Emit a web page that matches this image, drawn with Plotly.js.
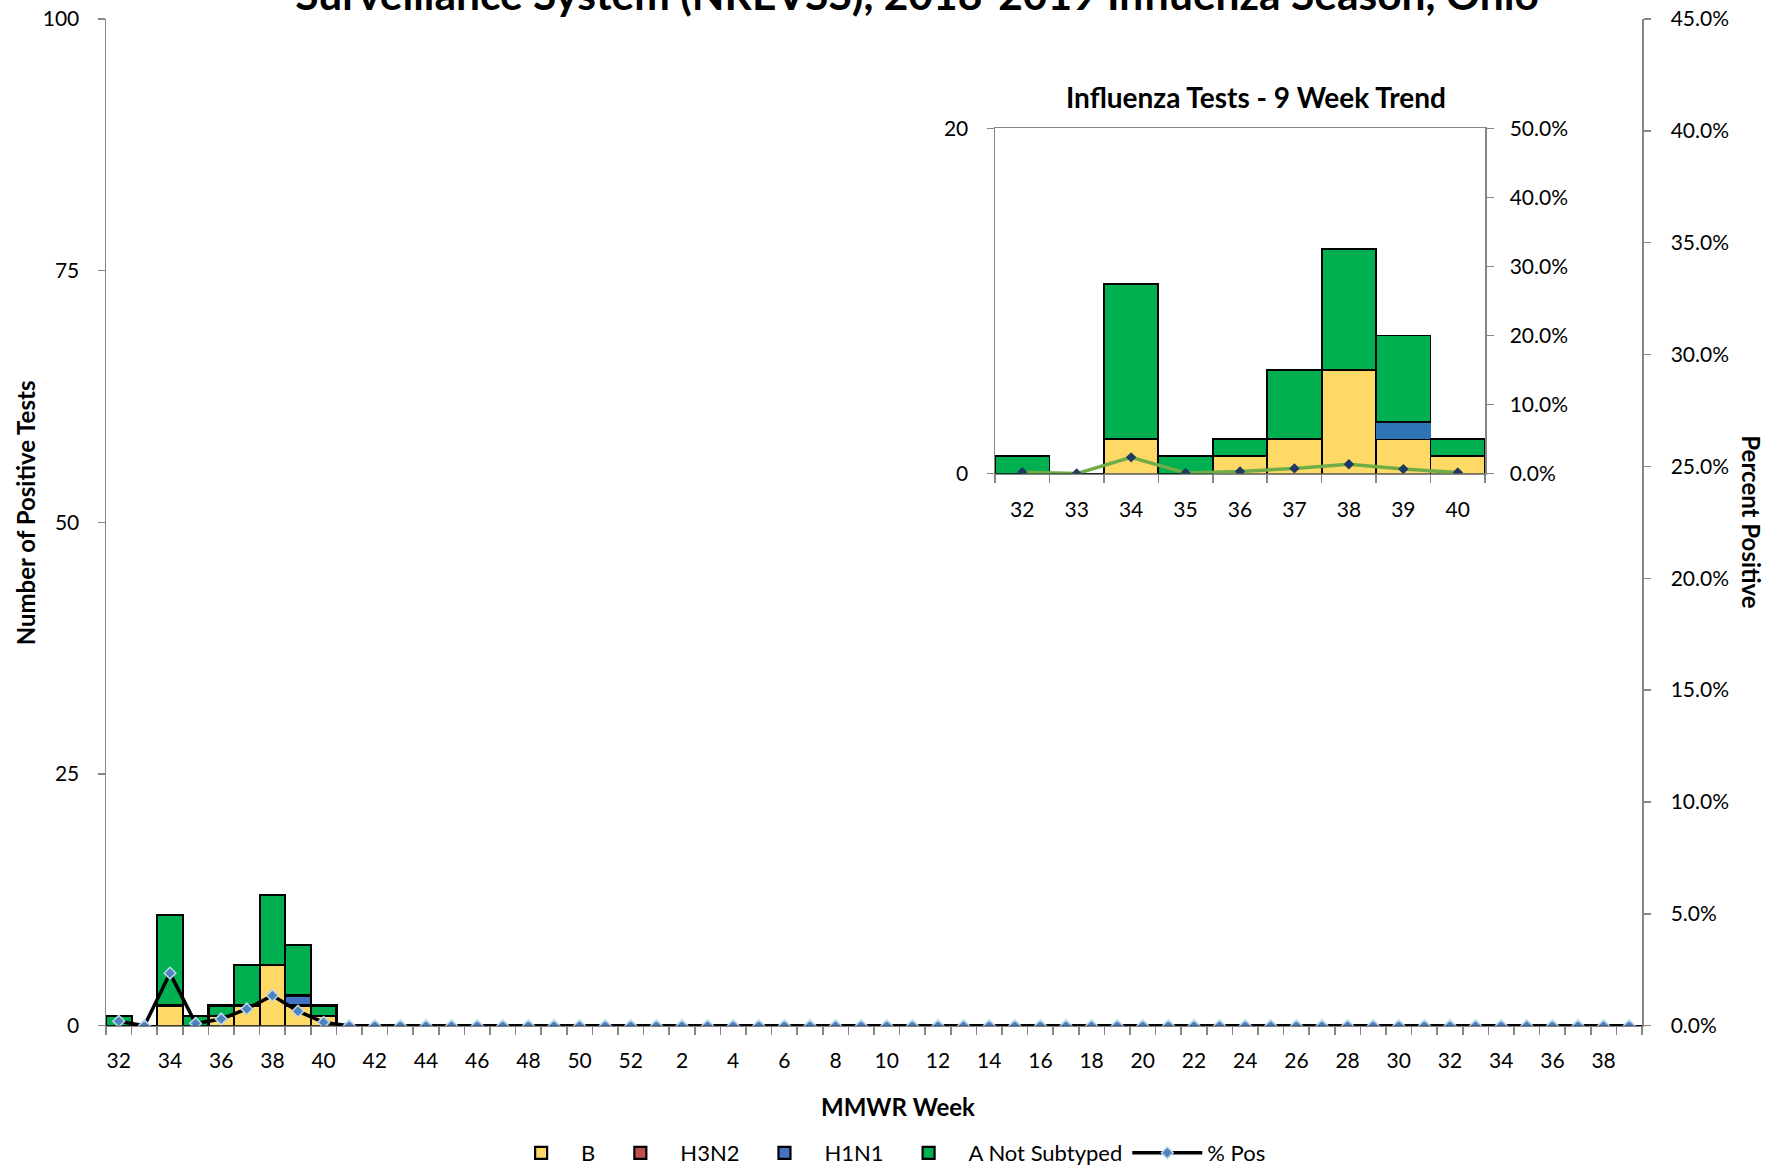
<!DOCTYPE html>
<html>
<head>
<meta charset="utf-8">
<script src="https://cdn.plot.ly/plotly-3.0.1.min.js"></script>
<style>html,body{margin:0;padding:0;background:#fff;}#chart{width:1774px;height:1174px;}</style>
</head>
<body>
<div id="chart"></div>
<script>
// MMWR weeks, 2018-2019 season (week 32 of 2018 to week 39 of 2019)
const weeks = [32,33,34,35,36,37,38,39,40,41,42,43,44,45,46,47,48,49,50,51,52,
               1,2,3,4,5,6,7,8,9,10,11,12,13,14,15,16,17,18,19,20,21,22,23,24,25,26,27,28,29,30,31,32,33,34,35,36,37,38,39];
const seriesB    = [0,0,2,0,1,2,6,2,1,0,0,0,0,0,0,0,0,0,0,0,0,0,0,0,0,0,0,0,0,0,0,0,0,0,0,0,0,0,0,0,0,0,0,0,0,0,0,0,0,0,0,0,0,0,0,0,0,0,0,0];
const seriesH3N2 = [0,0,0,0,0,0,0,0,0,0,0,0,0,0,0,0,0,0,0,0,0,0,0,0,0,0,0,0,0,0,0,0,0,0,0,0,0,0,0,0,0,0,0,0,0,0,0,0,0,0,0,0,0,0,0,0,0,0,0,0];
const seriesH1N1 = [0,0,0,0,0,0,0,1,0,0,0,0,0,0,0,0,0,0,0,0,0,0,0,0,0,0,0,0,0,0,0,0,0,0,0,0,0,0,0,0,0,0,0,0,0,0,0,0,0,0,0,0,0,0,0,0,0,0,0,0];
const seriesANS  = [1,0,9,1,1,4,7,5,1,0,0,0,0,0,0,0,0,0,0,0,0,0,0,0,0,0,0,0,0,0,0,0,0,0,0,0,0,0,0,0,0,0,0,0,0,0,0,0,0,0,0,0,0,0,0,0,0,0,0,0];
const pctPos     = [0.002,0,0.0235,0.001,0.003,0.0075,0.0135,0.0065,0.0015,0,0,0,0,0,0,0,0,0,0,0,0,0,0,0,0,0,0,0,0,0,0,0,0,0,0,0,0,0,0,0,0,0,0,0,0,0,0,0,0,0,0,0,0,0,0,0,0,0,0,0];
const insetCount = 9; // 9-week trend

const colB = '#FFD966', colH3 = '#C0504D', colH1 = '#4472C4', colA = '#00B050';
const FONT = 'Lato, "Open Sans", sans-serif';

const idx = weeks.map((w,i)=>i);
const labelIdx = idx.filter(i=>i%2===0);
const labelTxt = labelIdx.map(i=>String(weeks[i]));

const iIdx = idx.slice(0, insetCount);
const iTxt = iIdx.map(i=>String(weeks[i]));

const barLine = {color:'#000', width:2.2};
const traces = [
  {type:'bar', name:'B', x:idx, y:seriesB, marker:{color:colB, line:barLine}, xaxis:'x', yaxis:'y'},
  {type:'bar', name:'H3N2', x:idx, y:seriesH3N2, marker:{color:colH3, line:barLine}, xaxis:'x', yaxis:'y'},
  {type:'bar', name:'H1N1', x:idx, y:seriesH1N1, marker:{color:colH1, line:barLine}, xaxis:'x', yaxis:'y'},
  {type:'bar', name:'A Not Subtyped', x:idx, y:seriesANS, marker:{color:colA, line:barLine}, xaxis:'x', yaxis:'y'},
  {type:'scatter', mode:'lines+markers', name:'% Pos', x:idx, y:pctPos, xaxis:'x', yaxis:'y2',
   line:{color:'#000', width:3.5}, marker:{symbol:'diamond', size:9, color:'#4F81BD', line:{color:'#BDD7EE', width:1.5}}},
  // inset
  {type:'bar', name:'B', x:iIdx, y:seriesB.slice(0,insetCount), marker:{color:colB, line:{color:'#000',width:1.8}}, xaxis:'x3', yaxis:'y3', showlegend:false},
  {type:'bar', name:'H3N2', x:iIdx, y:seriesH3N2.slice(0,insetCount), marker:{color:colH3, line:{color:'#000',width:1.8}}, xaxis:'x3', yaxis:'y3', showlegend:false},
  {type:'bar', name:'H1N1', x:iIdx, y:seriesH1N1.slice(0,insetCount), marker:{color:'#2E75B6', line:{color:'#2E75B6',width:0}}, xaxis:'x3', yaxis:'y3', showlegend:false},
  {type:'bar', name:'A Not Subtyped', x:iIdx, y:seriesANS.slice(0,insetCount), marker:{color:colA, line:{color:'#000',width:1.8}}, xaxis:'x3', yaxis:'y3', showlegend:false},
  {type:'scatter', mode:'lines+markers', name:'% Pos', x:iIdx, y:pctPos.slice(0,insetCount), xaxis:'x3', yaxis:'y4', showlegend:false,
   line:{color:'#70AD47', width:3.5}, marker:{symbol:'diamond', size:8, color:'#1F3864'}}
];

const W = 1774, H = 1174;
const axLine = '#868686';
const tickFont = {family:FONT, size:21, color:'#000'};

const layout = {
  width:W, height:H,
  margin:{l:0,r:0,t:0,b:0},
  paper_bgcolor:'#fff', plot_bgcolor:'rgba(0,0,0,0)',
  font:{family:FONT, color:'#000'},
  barmode:'stack', bargap:0,
  showlegend:true,
  title:{text:'Surveillance System (NREVSS), 2018-2019 Influenza Season, Ohio',
         font:{family:FONT, size:42.5, color:'#000', weight:'bold'},
         x:0.517, xanchor:'center', xref:'container', y:1-10/H, yanchor:'bottom', yref:'container'},
  legend:{orientation:'h', x:0.4995, xanchor:'center', y:1-1159/H, yanchor:'middle', itemwidth:70,
          font:{family:FONT, size:22, color:'#000'}, traceorder:'normal'},
  xaxis:{domain:[106/W, 1642/W], range:[-0.5, weeks.length-0.5], anchor:'y',
         tickmode:'array', tickvals:labelIdx, ticktext:labelTxt, ticks:'', tickfont:tickFont,
         ticklabelstandoff:16,
         minor:{tickmode:'linear', tick0:-0.5, dtick:1, ticks:'outside', ticklen:8, tickcolor:axLine, tickwidth:1.5},
         showline:true, linecolor:axLine, linewidth:1.5, showgrid:false, zeroline:false, fixedrange:true},
  yaxis:{domain:[1-1031/H, 1-19/H], range:[0,100], tickmode:'linear', tick0:0, dtick:25,
         ticks:'outside', ticklen:7, tickcolor:axLine, tickwidth:1.5, tickfont:tickFont, ticklabelstandoff:14,
         showline:true, linecolor:axLine, linewidth:1.5, showgrid:false, zeroline:false},
  yaxis2:{overlaying:'y', side:'right', anchor:'x', range:[0,0.45], tickmode:'linear', tick0:0, dtick:0.05,
          tickformat:'.1%', ticks:'outside', ticklen:7, tickcolor:axLine, tickwidth:1.5, tickfont:tickFont,
          ticklabelstandoff:16, showline:true, linecolor:axLine, linewidth:1.5, showgrid:false, zeroline:false},
  xaxis3:{domain:[995/W, 1485/W], range:[-0.5, insetCount-0.5], anchor:'y3',
          tickmode:'array', tickvals:iIdx, ticktext:iTxt, ticks:'', tickfont:tickFont, ticklabelstandoff:17,
          minor:{tickmode:'linear', tick0:-0.5, dtick:1, ticks:'outside', ticklen:8, tickcolor:axLine, tickwidth:1.5},
          showline:true, mirror:true, linecolor:axLine, linewidth:1.5, showgrid:false, zeroline:false},
  yaxis3:{domain:[1-476/H, 1-129/H], range:[0,20], anchor:'x3', tickmode:'array', tickvals:[0,20],
          ticks:'outside', ticklen:7, tickcolor:axLine, tickwidth:1.5, tickfont:tickFont, ticklabelstandoff:14,
          showline:true, linecolor:axLine, linewidth:1.5, showgrid:false, zeroline:false},
  yaxis4:{overlaying:'y3', side:'right', anchor:'x3', range:[0,0.5], tickmode:'linear', tick0:0, dtick:0.1,
          tickformat:'.1%', ticks:'outside', ticklen:7, tickcolor:axLine, tickwidth:1.5, tickfont:tickFont,
          ticklabelstandoff:12, showline:true, linecolor:axLine, linewidth:1.5, showgrid:false, zeroline:false},
  annotations:[
    {text:'Number of Positive Tests', xref:'paper', yref:'paper', x:25/W, y:1-516/H, textangle:-90,
     showarrow:false, font:{family:FONT, size:24, color:'#000', weight:'bold'}, xanchor:'center', yanchor:'middle'},
    {text:'Percent Positive', xref:'paper', yref:'paper', x:1752/W, y:1-524/H, textangle:90,
     showarrow:false, font:{family:FONT, size:24, color:'#000', weight:'bold'}, xanchor:'center', yanchor:'middle'},
    {text:'MMWR Week', xref:'paper', yref:'paper', x:898/W, y:1-1112/H,
     showarrow:false, font:{family:FONT, size:24, color:'#000', weight:'bold'}, xanchor:'center', yanchor:'middle'},
    {text:'Influenza Tests - 9 Week Trend', xref:'paper', yref:'paper', x:1256/W, y:1-98/H,
     showarrow:false, font:{family:FONT, size:28, color:'#000', weight:'bold'}, xanchor:'center', yanchor:'middle'}
  ]
};

Plotly.newPlot('chart', traces, layout, {displayModeBar:false, staticPlot:true});
</script>
</body>
</html>
